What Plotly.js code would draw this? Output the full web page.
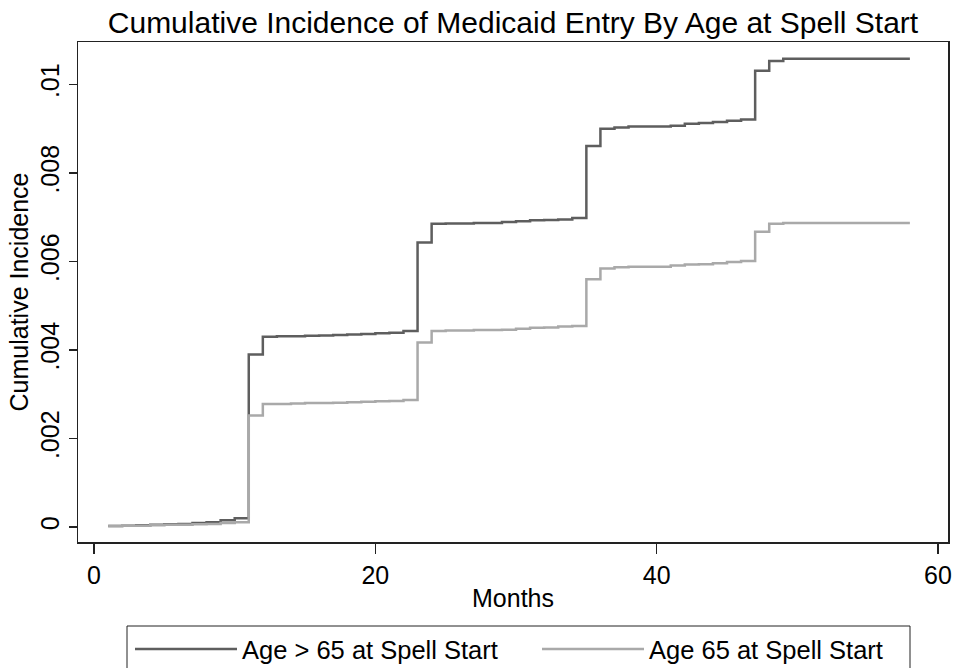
<!DOCTYPE html>
<html>
<head>
<meta charset="utf-8">
<script src="https://cdn.plot.ly/plotly-3.0.1.min.js"></script>
<style>
  html, body { margin: 0; padding: 0; background: #ffffff; }
  #chart { width: 956px; height: 668px; }
</style>
</head>
<body>
<div id="chart"></div>
<script>
// Months since spell start
const months = [
  1, 2, 3, 4, 5, 6, 7, 8, 9, 10,
  11, 12, 13, 14, 15, 16, 17, 18, 19, 20,
  21, 22, 23, 24, 25, 26, 27, 28, 29, 30,
  31, 32, 33, 34, 35, 36, 37, 38, 39, 40,
  41, 42, 43, 44, 45, 46, 47, 48, 49, 50,
  51, 52, 53, 54, 55, 56, 57, 58
];

// Cumulative incidence, age > 65 at spell start
const incidenceOver65 = [
  0.00002, 0.00003, 0.00004, 0.00005, 0.00006, 0.00007, 0.00009, 0.00011, 0.00015, 0.00020,
  0.00390, 0.00430, 0.00431, 0.00431, 0.00432, 0.00433, 0.00434, 0.00435, 0.00436, 0.00438,
  0.00439, 0.00443, 0.00643, 0.00685, 0.00686, 0.00686, 0.00687, 0.00687, 0.00689, 0.00691,
  0.00693, 0.00694, 0.00695, 0.00698, 0.00861, 0.00900, 0.00903, 0.00905, 0.00905, 0.00905,
  0.00907, 0.00911, 0.00913, 0.00915, 0.00918, 0.00921, 0.01031, 0.01053, 0.01058, 0.01058,
  0.01058, 0.01058, 0.01058, 0.01058, 0.01058, 0.01058, 0.01058, 0.01058
];

// Cumulative incidence, age 65 at spell start
const incidenceAt65 = [
  0.00002, 0.00003, 0.00003, 0.00004, 0.00005, 0.00005, 0.00006, 0.00007, 0.00009, 0.00011,
  0.00252, 0.00278, 0.00278, 0.00279, 0.00280, 0.00280, 0.00281, 0.00282, 0.00283, 0.00284,
  0.00285, 0.00287, 0.00417, 0.00443, 0.00444, 0.00444, 0.00445, 0.00445, 0.00446, 0.00448,
  0.00450, 0.00451, 0.00453, 0.00454, 0.00560, 0.00584, 0.00587, 0.00588, 0.00588, 0.00588,
  0.00591, 0.00593, 0.00594, 0.00596, 0.00599, 0.00601, 0.00667, 0.00685, 0.00687, 0.00687,
  0.00687, 0.00687, 0.00687, 0.00687, 0.00687, 0.00687, 0.00687, 0.00687
];

const seriesNames = ['Age > 65 at Spell Start', 'Age 65 at Spell Start'];

const xTickVals = [0, 20, 40, 60];
const yTickVals = [0, 0.002, 0.004, 0.006, 0.008, 0.01];
const yTickText = ['0', '.002', '.004', '.006', '.008', '.01'];

const FONT = '"Liberation Sans", Arial, Helvetica, sans-serif';

// Plot area in pixels, used to place the legend frame in paper units
const W = 956, H = 668;
const M = { l: 78, r: 8, t: 42, b: 126 };
const plotW = W - M.l - M.r;
const plotH = H - M.t - M.b;
const px2paperX = (px) => (px - M.l) / plotW;
const px2paperY = (py) => (H - M.b - py) / plotH;

const traces = [
  {
    x: months, y: incidenceOver65, name: seriesNames[0],
    type: 'scatter', mode: 'lines',
    line: { shape: 'hv', color: '#5e5e5e', width: 2.5 }
  },
  {
    x: months, y: incidenceAt65, name: seriesNames[1],
    type: 'scatter', mode: 'lines',
    line: { shape: 'hv', color: '#a9a9a9', width: 2.5 }
  }
];

const layout = {
  width: W, height: H,
  paper_bgcolor: '#ffffff', plot_bgcolor: '#ffffff',
  font: { family: FONT, size: 25, color: '#000000' },
  margin: { l: M.l, r: M.r, t: M.t, b: M.b, autoexpand: false },
  title: {
    text: 'Cumulative Incidence of Medicaid Entry By Age at Spell Start',
    font: { family: FONT, size: 30, color: '#000000' },
    x: 0.5, xref: 'paper', xanchor: 'center',
    y: 1 - 22 / H, yref: 'container', yanchor: 'middle'
  },
  xaxis: {
    range: [-1.14, 60.71],
    tickmode: 'array', tickvals: xTickVals,
    ticks: 'outside', ticklen: 10, tickwidth: 1.5, tickcolor: '#222',
    showgrid: false, zeroline: false,
    showline: true, linecolor: '#222', linewidth: 1.5, mirror: true,
    tickfont: { family: FONT, size: 25 },
    title: { text: 'Months', font: { family: FONT, size: 25 }, standoff: 2 }
  },
  yaxis: {
    range: [-0.000339, 0.01096],
    tickmode: 'array', tickvals: yTickVals, ticktext: yTickText,
    tickangle: -90,
    ticks: 'outside', ticklen: 8, tickwidth: 1.5, tickcolor: '#222',
    showgrid: false, zeroline: false,
    showline: true, linecolor: '#222', linewidth: 1.5, mirror: true,
    tickfont: { family: FONT, size: 25 },
    title: { text: 'Cumulative Incidence', font: { family: FONT, size: 25 }, standoff: 0 }
  },
  showlegend: true,
  legend: {
    orientation: 'h',
    x: px2paperX(130), xref: 'paper', xanchor: 'left',
    y: px2paperY(626), yanchor: 'top',
    borderwidth: 0,
    bgcolor: 'rgba(0,0,0,0)',
    font: { family: FONT, size: 25.5 },
    itemwidth: 102,
    entrywidth: 290,
    traceorder: 'normal'
  },
  // Legend frame
  shapes: [{
    type: 'rect', xref: 'paper', yref: 'paper',
    x0: px2paperX(127), x1: px2paperX(910),
    y0: px2paperY(626), y1: px2paperY(680),
    line: { color: '#222', width: 1 },
    fillcolor: 'rgba(0,0,0,0)'
  }]
};

Plotly.newPlot('chart', traces, layout, { displayModeBar: false, staticPlot: true });
</script>
</body>
</html>
